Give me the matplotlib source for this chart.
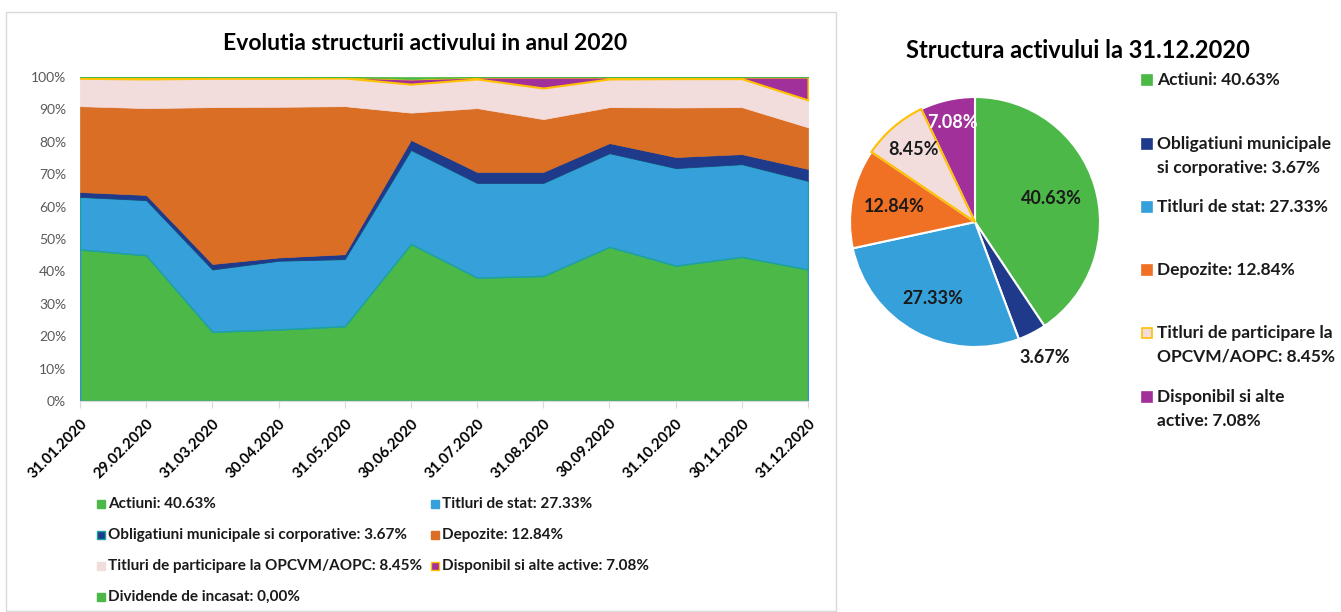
import matplotlib
matplotlib.use("Agg")
import matplotlib.pyplot as plt
from matplotlib.patches import Rectangle
import numpy as np

plt.rcParams['font.family'] = ['Lato', 'DejaVu Sans']

# ---------------- data ----------------
dates = ["31.01.2020", "29.02.2020", "31.03.2020", "30.04.2020", "31.05.2020",
         "30.06.2020", "31.07.2020", "31.08.2020", "30.09.2020", "31.10.2020",
         "30.11.2020", "31.12.2020"]
actiuni = [46.8, 45.0, 21.4, 22.1, 23.1, 48.5, 38.1, 38.6, 47.6, 41.8, 44.5, 40.63]
titluri_stat = [16.2, 17.0, 19.2, 21.2, 20.7, 29.0, 29.2, 28.7, 28.9, 30.1, 28.6, 27.33]
obligatiuni = [1.5, 1.6, 1.7, 1.0, 1.5, 3.1, 3.4, 3.4, 3.1, 3.4, 3.1, 3.67]
depozite = [26.5, 26.8, 48.4, 46.5, 45.7, 8.4, 19.7, 16.3, 11.1, 15.3, 14.5, 12.84]
titluri_part = [8.6, 9.0, 8.9, 8.8, 8.7, 8.8, 9.0, 9.6, 8.7, 8.9, 8.8, 8.45]
disponibil = [0.4, 0.6, 0.4, 0.4, 0.3, 1.6, 0.6, 3.4, 0.6, 0.5, 0.5, 7.08]
dividende = [0.0, 0.0, 0.0, 0.0, 0.0, 0.6, 0.0, 0.0, 0.0, 0.0, 0.0, 0.0]

yticks = [0, 10, 20, 30, 40, 50, 60, 70, 80, 90, 100]

pie_names = ["Actiuni", "Obligatiuni municipale si corporative", "Titluri de stat",
             "Depozite", "Titluri de participare la OPCVM/AOPC",
             "Disponibil si alte active"]
pie_values = [40.63, 3.67, 27.33, 12.84, 8.45, 7.08]
dividende_total = 0.00

title_left = "Evolutia structurii activului in anul 2020"
title_right = "Structura activului la 31.12.2020"

# ---------------- style ----------------
C_GREEN = "#4BB848"
C_NAVY = "#1F3A8A"
C_BLUE = "#36A0DB"
C_ORANGE_A = "#D96E24"
C_ORANGE_P = "#F07024"
C_PINK = "#F2DCDC"
C_PURPLE = "#A1309A"
C_YELLOW = "#FFC000"

W, H = 1341, 612
fig = plt.figure(figsize=(W / 100, H / 100), dpi=100)

def fx(px):
    return px / W

def fy(py):
    return 1 - py / H

# panel border for left chart
fig.patches.append(Rectangle((fx(6), fy(611)), fx(836) - fx(6), fy(12) - fy(611),
                             transform=fig.transFigure, fill=False,
                             edgecolor="#D9D9D9", linewidth=1.0))

# ---------------- stacked area ----------------
ax = fig.add_axes([fx(80), fy(401), fx(808) - fx(80), fy(77) - fy(401)])
x = np.arange(len(dates))
series = [
    (actiuni, C_GREEN, "#2A93D5", 1.0),
    (titluri_stat, C_BLUE, "#1AA39C", 1.0),
    (obligatiuni, C_NAVY, C_NAVY, 0.5),
    (depozite, C_ORANGE_A, C_ORANGE_A, 0.5),
    (titluri_part, C_PINK, C_PINK, 0.5),
    (disponibil, C_PURPLE, C_YELLOW, 1.5),
    (dividende, C_GREEN, C_GREEN, 0.5),
]
base = np.zeros(len(dates))
for vals, fc, ec, lw in series:
    top = base + np.array(vals)
    ax.fill_between(x, base, top, facecolor=fc, edgecolor=ec, linewidth=lw, zorder=2)
    base = top

ax.set_xlim(0, len(dates) - 1)
ax.set_ylim(0, 100)
ax.set_yticks(yticks)
ax.set_yticklabels([f"{v}%" for v in yticks], color="#595959", fontsize=10)
ax.set_xticks(x)
ax.set_xticklabels(dates, rotation=45, ha="right", rotation_mode="anchor",
                   fontsize=10.8, fontweight="bold", color="#000000")
ax.tick_params(axis="y", length=0, pad=10)
ax.tick_params(axis="x", length=5, color="#D9D9D9", pad=6)
for s in ["top", "right", "left"]:
    ax.spines[s].set_visible(False)
ax.spines["bottom"].set_color("#D9D9D9")
ax.spines["bottom"].set_zorder(3)

fig.text(fx(425), fy(44), title_left, ha="center", va="center",
         fontsize=16.5, fontweight="bold", color="#000000")

# legend of area chart (manual)
leg_entries = [
    (f"{pie_names[0]}: {pie_values[0]:.2f}%", C_GREEN, C_GREEN),
    (f"{pie_names[2]}: {pie_values[2]:.2f}%", C_BLUE, C_BLUE),
    (f"{pie_names[1]}: {pie_values[1]:.2f}%", C_NAVY, "#1AA39C"),
    (f"{pie_names[3]}: {pie_values[3]:.2f}%", C_ORANGE_A, C_ORANGE_A),
    (f"{pie_names[4]}: {pie_values[4]:.2f}%", C_PINK, C_PINK),
    (f"{pie_names[5]}: {pie_values[5]:.2f}%", C_PURPLE, C_YELLOW),
    (f"Dividende de incasat: {dividende_total:.2f}%".replace(".", ","), C_GREEN, C_GREEN),
]
col_x = [97, 431]
row_y = [504, 535, 566, 597]
for i, (txt, fc, ec) in enumerate(leg_entries):
    cx = col_x[i % 2]
    cy = row_y[i // 2]
    fig.patches.append(Rectangle((fx(cx), fy(cy + 4)), fx(8), fy(0) - fy(8),
                                 transform=fig.transFigure, facecolor=fc,
                                 edgecolor=ec, linewidth=1.0))
    fig.text(fx(cx + 11), fy(cy), txt, ha="left", va="center",
             fontsize=11.0, fontweight="bold", color="#1A1A1A")

# ---------------- pie ----------------
cx_p, cy_p, r_p = 975, 222, 125
axp = fig.add_axes([fx(cx_p - r_p), fy(cy_p + r_p), fx(2 * r_p), fy(0) - fy(2 * r_p)])
pie_colors = [C_GREEN, C_NAVY, C_BLUE, C_ORANGE_P, C_PINK, C_PURPLE]
wedges, _ = axp.pie(pie_values, colors=pie_colors, startangle=90, counterclock=False,
                    radius=1.0, wedgeprops=dict(edgecolor="white", linewidth=1.5))
wedges[4].set_edgecolor(C_YELLOW)
wedges[4].set_linewidth(1.5)
wedges[4].set_zorder(3)
axp.set_xlim(-1, 1)
axp.set_ylim(-1, 1)
axp.set_aspect("auto")
axp.axis("off")

label_r = [0.64, 1.22, 0.70, 0.66, 0.76, 0.82]
label_c = ["#1A1A1A", "#1A1A1A", "#1A1A1A", "#1A1A1A", "#1A1A1A", "#FFFFFF"]
cum = np.cumsum([0] + pie_values[:-1])
for i, v in enumerate(pie_values):
    mid = np.deg2rad(90 - (cum[i] + v / 2) * 3.6)
    axp.text(label_r[i] * np.cos(mid), label_r[i] * np.sin(mid), f"{v:.2f}%",
             ha="center", va="center", fontsize=13, fontweight="bold",
             color=label_c[i], clip_on=False)

fig.text(fx(1078), fy(50), title_right, ha="center", va="center",
         fontsize=17, fontweight="bold", color="#000000")

# pie legend (manual)
pie_leg_lines = [
    [f"{pie_names[0]}: {pie_values[0]:.2f}%"],
    ["Obligatiuni municipale", f"si corporative: {pie_values[1]:.2f}%"],
    [f"{pie_names[2]}: {pie_values[2]:.2f}%"],
    [f"{pie_names[3]}: {pie_values[3]:.2f}%"],
    ["Titluri de participare la", f"OPCVM/AOPC: {pie_values[4]:.2f}%"],
    ["Disponibil si alte", f"active: {pie_values[5]:.2f}%"],
]
leg_y0 = [80, 144, 207, 270, 333, 397]
for i, lines in enumerate(pie_leg_lines):
    yy = leg_y0[i]
    fc = pie_colors[i]
    ec = C_YELLOW if i == 4 else pie_colors[i]
    fig.patches.append(Rectangle((fx(1142), fy(yy + 5)), fx(10), fy(0) - fy(10),
                                 transform=fig.transFigure, facecolor=fc,
                                 edgecolor=ec, linewidth=1.2))
    for j, ln in enumerate(lines):
        fig.text(fx(1157), fy(yy + j * 24), ln, ha="left", va="center",
                 fontsize=12.5, fontweight="bold", color="#1A1A1A")

fig.savefig("out.png", dpi=100, facecolor="white")
